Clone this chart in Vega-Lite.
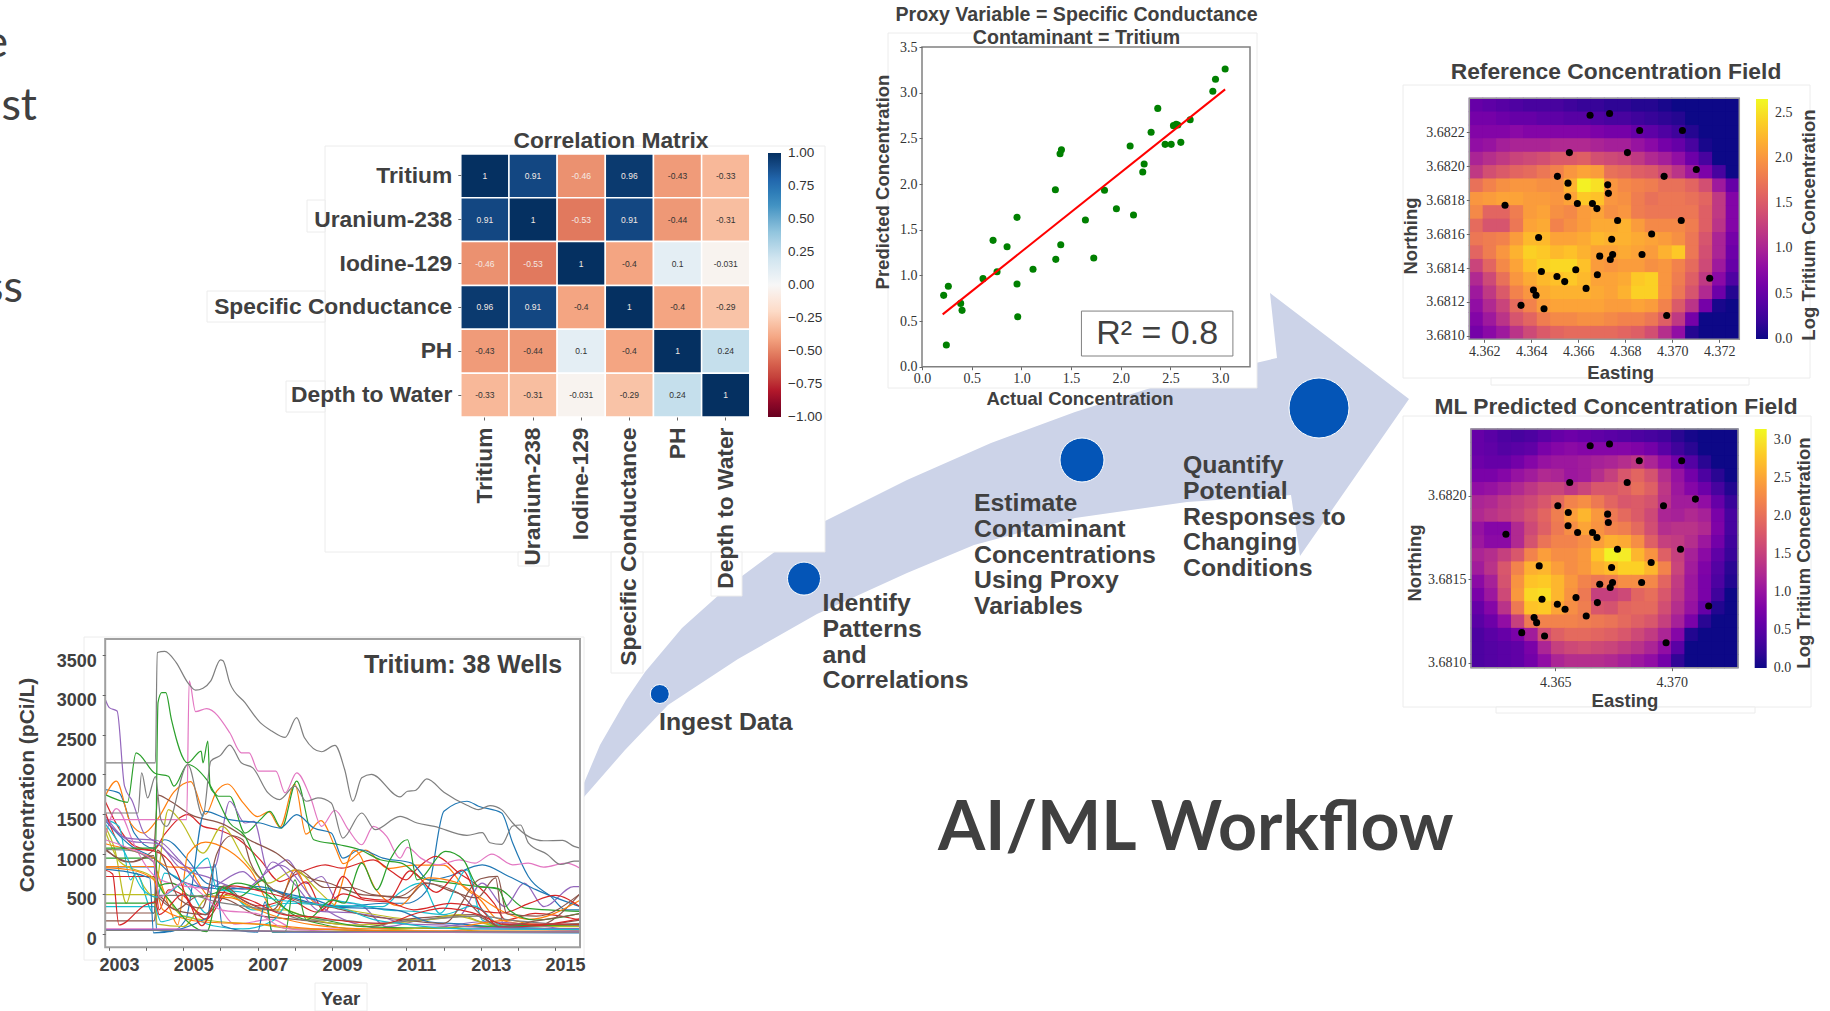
{"$schema":"https://vega.github.io/schema/vega-lite/v6.json","width":1830,"height":1011,"padding":0,"autosize":{"type":"none"},"background":"white","config":{"view":{"stroke":null},"axis":{"grid":false,"domain":false,"title":null,"labelOverlap":false,"labelFlush":false,"labelLimit":500,"tickColor":"#666","tickSize":3},"text":{"font":"Liberation Sans","color":"#404040"}},
"resolve":{"scale":{"x":"independent","y":"independent","color":"independent","size":"independent"},"axis":{"x":"independent","y":"independent"},"legend":{"color":"independent","size":"independent"}},
"datasets":{
"arrow":[{"o":1,"x":584,"y":797},{"o":2,"x":584,"y":783},{"o":3,"x":600,"y":745},{"o":4,"x":626,"y":700},{"o":5,"x":645,"y":672},{"o":6,"x":682,"y":628},{"o":7,"x":730,"y":585},{"o":8,"x":780,"y":548},{"o":9,"x":825,"y":521},{"o":10,"x":907,"y":480},{"o":11,"x":991,"y":443},{"o":12,"x":1075,"y":412},{"o":13,"x":1160,"y":385},{"o":14,"x":1277,"y":358},{"o":15,"x":1270,"y":293},{"o":16,"x":1409,"y":399},{"o":17,"x":1300,"y":556},{"o":18,"x":1291,"y":495},{"o":19,"x":1187,"y":502},{"o":20,"x":1075,"y":518},{"o":21,"x":974,"y":545},{"o":22,"x":907,"y":573},{"o":23,"x":817,"y":614},{"o":24,"x":738,"y":659},{"o":25,"x":668,"y":705},{"o":26,"x":625,"y":750}],
"panels":[{"x0":325,"x1":825,"y0":146,"y1":552},{"x0":307,"x1":325,"y0":200,"y1":232},{"x0":207,"x1":325,"y0":291,"y1":322},{"x0":286,"x1":325,"y0":381,"y1":412},{"x0":611,"x1":643,"y0":552,"y1":673},{"x0":711,"x1":742,"y0":552,"y1":596},{"x0":518,"x1":549,"y0":552,"y1":566},{"x0":888,"x1":1257,"y0":33,"y1":388},{"x0":1403,"x1":1810,"y0":85,"y1":378},{"x0":1491,"x1":1749,"y0":378,"y1":385},{"x0":1403,"x1":1811,"y0":416,"y1":707},{"x0":1496,"x1":1755,"y0":707,"y1":713},{"x0":84,"x1":584,"y0":637,"y1":960},{"x0":315,"x1":367,"y0":983,"y1":1011}],
"steps":[{"s":1,"x":659.8,"y":694},{"s":2,"x":804,"y":578.6},{"s":3,"x":1082,"y":460},{"s":4,"x":1319,"y":408}],
"stepText":[{"t":"Ingest Data","x":659,"y":710},{"t":"Identify\nPatterns\nand\nCorrelations","x":822.5,"y":591},{"t":"Estimate\nContaminant\nConcentrations\nUsing Proxy\nVariables","x":974,"y":491},{"t":"Quantify\nPotential\nResponses to\nChanging\nConditions","x":1183,"y":453}],
"wells":[{"e":4.3665,"n":3.6823},{"e":4.36733,"n":3.68231},{"e":4.36861,"n":3.68221},{"e":4.37043,"n":3.68221},{"e":4.36562,"n":3.68208},{"e":4.36809,"n":3.68208},{"e":4.37102,"n":3.68198},{"e":4.36965,"n":3.68194},{"e":4.36511,"n":3.68194},{"e":4.36556,"n":3.6819},{"e":4.36725,"n":3.68189},{"e":4.36555,"n":3.68182},{"e":4.36728,"n":3.68184},{"e":4.36288,"n":3.68177},{"e":4.36596,"n":3.68178},{"e":4.3666,"n":3.68178},{"e":4.36679,"n":3.68175},{"e":4.36767,"n":3.68168},{"e":4.37038,"n":3.68168},{"e":4.36431,"n":3.68158},{"e":4.36912,"n":3.6816},{"e":4.36742,"n":3.68157},{"e":4.36746,"n":3.68148},{"e":4.36871,"n":3.68148},{"e":4.36691,"n":3.68147},{"e":4.36736,"n":3.68145},{"e":4.36443,"n":3.68138},{"e":4.36589,"n":3.68139},{"e":4.36681,"n":3.68136},{"e":4.36509,"n":3.68135},{"e":4.36542,"n":3.68132},{"e":4.36633,"n":3.68128},{"e":4.36409,"n":3.68127},{"e":4.3642,"n":3.68124},{"e":4.36356,"n":3.68118},{"e":4.36454,"n":3.68116},{"e":4.36976,"n":3.68112},{"e":4.37159,"n":3.68134}],
"corr":[{"a":"Tritium","b":"Tritium","r":1,"l":"1"},{"a":"Tritium","b":"Uranium-238","r":0.91,"l":"0.91"},{"a":"Tritium","b":"Iodine-129","r":-0.46,"l":"-0.46"},{"a":"Tritium","b":"Specific Conductance","r":0.96,"l":"0.96"},{"a":"Tritium","b":"PH","r":-0.43,"l":"-0.43"},{"a":"Tritium","b":"Depth to Water","r":-0.33,"l":"-0.33"},{"a":"Uranium-238","b":"Tritium","r":0.91,"l":"0.91"},{"a":"Uranium-238","b":"Uranium-238","r":1,"l":"1"},{"a":"Uranium-238","b":"Iodine-129","r":-0.53,"l":"-0.53"},{"a":"Uranium-238","b":"Specific Conductance","r":0.91,"l":"0.91"},{"a":"Uranium-238","b":"PH","r":-0.44,"l":"-0.44"},{"a":"Uranium-238","b":"Depth to Water","r":-0.31,"l":"-0.31"},{"a":"Iodine-129","b":"Tritium","r":-0.46,"l":"-0.46"},{"a":"Iodine-129","b":"Uranium-238","r":-0.53,"l":"-0.53"},{"a":"Iodine-129","b":"Iodine-129","r":1,"l":"1"},{"a":"Iodine-129","b":"Specific Conductance","r":-0.4,"l":"-0.4"},{"a":"Iodine-129","b":"PH","r":0.1,"l":"0.1"},{"a":"Iodine-129","b":"Depth to Water","r":-0.031,"l":"-0.031"},{"a":"Specific Conductance","b":"Tritium","r":0.96,"l":"0.96"},{"a":"Specific Conductance","b":"Uranium-238","r":0.91,"l":"0.91"},{"a":"Specific Conductance","b":"Iodine-129","r":-0.4,"l":"-0.4"},{"a":"Specific Conductance","b":"Specific Conductance","r":1,"l":"1"},{"a":"Specific Conductance","b":"PH","r":-0.4,"l":"-0.4"},{"a":"Specific Conductance","b":"Depth to Water","r":-0.29,"l":"-0.29"},{"a":"PH","b":"Tritium","r":-0.43,"l":"-0.43"},{"a":"PH","b":"Uranium-238","r":-0.44,"l":"-0.44"},{"a":"PH","b":"Iodine-129","r":0.1,"l":"0.1"},{"a":"PH","b":"Specific Conductance","r":-0.4,"l":"-0.4"},{"a":"PH","b":"PH","r":1,"l":"1"},{"a":"PH","b":"Depth to Water","r":0.24,"l":"0.24"},{"a":"Depth to Water","b":"Tritium","r":-0.33,"l":"-0.33"},{"a":"Depth to Water","b":"Uranium-238","r":-0.31,"l":"-0.31"},{"a":"Depth to Water","b":"Iodine-129","r":-0.031,"l":"-0.031"},{"a":"Depth to Water","b":"Specific Conductance","r":-0.29,"l":"-0.29"},{"a":"Depth to Water","b":"PH","r":0.24,"l":"0.24"},{"a":"Depth to Water","b":"Depth to Water","r":1,"l":"1"}],
"scatter":[{"x":0.218,"y":0.781},{"x":0.265,"y":0.88},{"x":0.245,"y":0.237},{"x":0.389,"y":0.693},{"x":0.403,"y":0.617},{"x":0.614,"y":0.964},{"x":0.715,"y":1.383},{"x":0.755,"y":1.04},{"x":0.856,"y":1.314},{"x":0.956,"y":1.635},{"x":0.956,"y":0.905},{"x":0.963,"y":0.547},{"x":1.117,"y":1.066},{"x":1.342,"y":1.938},{"x":1.346,"y":1.175},{"x":1.389,"y":2.332},{"x":1.403,"y":2.376},{"x":1.396,"y":1.336},{"x":1.644,"y":1.606},{"x":1.728,"y":1.19},{"x":1.836,"y":1.931},{"x":1.956,"y":1.73},{"x":2.094,"y":2.416},{"x":2.128,"y":1.661},{"x":2.221,"y":2.131},{"x":2.235,"y":2.219},{"x":2.305,"y":2.566},{"x":2.372,"y":2.828},{"x":2.446,"y":2.434},{"x":2.507,"y":2.434},{"x":2.53,"y":2.639},{"x":2.557,"y":2.653},{"x":2.574,"y":2.646},{"x":2.604,"y":2.456},{"x":2.698,"y":2.704},{"x":2.926,"y":3.015},{"x":2.953,"y":3.146},{"x":3.05,"y":3.259}],
"fit":[{"x":0.208,"y":0.573},{"x":3.05,"y":3.036}],
"ts":[
{"w":1,"t":2002.9,"c":1810},{"w":1,"t":2003.27,"c":1768},{"w":1,"t":2003.68,"c":1264},{"w":1,"t":2004.19,"c":1075},{"w":1,"t":2004.5,"c":1180},{"w":1,"t":2005.12,"c":928},{"w":1,"t":2005.63,"c":634},{"w":1,"t":2006.25,"c":571},{"w":1,"t":2007.28,"c":550},{"w":1,"t":2008.31,"c":403},{"w":1,"t":2009.34,"c":340},{"w":1,"t":2010.37,"c":382},{"w":1,"t":2010.99,"c":382},{"w":1,"t":2011.4,"c":466},{"w":1,"t":2011.6,"c":592},{"w":1,"t":2012.01,"c":1537},{"w":1,"t":2012.63,"c":1663},{"w":1,"t":2012.94,"c":1600},{"w":1,"t":2013.56,"c":1516},{"w":1,"t":2013.86,"c":1138},{"w":1,"t":2014.28,"c":718},{"w":1,"t":2014.89,"c":466},{"w":1,"t":2015.3,"c":298},{"w":1,"t":2015.67,"c":298},
{"w":2,"t":2002.9,"c":1726},{"w":2,"t":2003.2,"c":1915},{"w":2,"t":2003.58,"c":1390},{"w":2,"t":2003.94,"c":1264},{"w":2,"t":2004.3,"c":1432},{"w":2,"t":2004.75,"c":1780},{"w":2,"t":2005.2,"c":1910},{"w":2,"t":2005.6,"c":1500},{"w":2,"t":2005.9,"c":1790},{"w":2,"t":2006.2,"c":1880},{"w":2,"t":2006.6,"c":1650},{"w":2,"t":2007,"c":1470},{"w":2,"t":2007.3,"c":1530},{"w":2,"t":2007.6,"c":1340},{"w":2,"t":2008,"c":1880},{"w":2,"t":2008.3,"c":1250},{"w":2,"t":2008.7,"c":1420},{"w":2,"t":2009.1,"c":1070},{"w":2,"t":2009.3,"c":880},{"w":2,"t":2009.9,"c":1050},{"w":2,"t":2010.5,"c":820},{"w":2,"t":2011.2,"c":860},{"w":2,"t":2012,"c":860},{"w":2,"t":2012.6,"c":560},{"w":2,"t":2013,"c":420},{"w":2,"t":2013.4,"c":200},{"w":2,"t":2014,"c":130},{"w":2,"t":2015.67,"c":100},
{"w":3,"t":2002.9,"c":1747},{"w":3,"t":2003.36,"c":1663},{"w":3,"t":2003.5,"c":1650},{"w":3,"t":2003.73,"c":2272},{"w":3,"t":2004.25,"c":2012},{"w":3,"t":2004.6,"c":1978},{"w":3,"t":2004.75,"c":1852},{"w":3,"t":2005.12,"c":2125},{"w":3,"t":2005.63,"c":1936},{"w":3,"t":2005.94,"c":1726},{"w":3,"t":2006.25,"c":1726},{"w":3,"t":2006.66,"c":1264},{"w":3,"t":2007.07,"c":1432},{"w":3,"t":2007.33,"c":1537},{"w":3,"t":2007.64,"c":1327},{"w":3,"t":2008.05,"c":1915},{"w":3,"t":2008.51,"c":1180},{"w":3,"t":2009.2,"c":1117},{"w":3,"t":2009.75,"c":1054},{"w":3,"t":2010.3,"c":928},{"w":3,"t":2010.9,"c":880},{"w":3,"t":2011.4,"c":700},{"w":3,"t":2012,"c":650},{"w":3,"t":2012.8,"c":600},{"w":3,"t":2013.5,"c":560},{"w":3,"t":2014.2,"c":320},{"w":3,"t":2015.67,"c":280},
{"w":4,"t":2002.9,"c":1663},{"w":4,"t":2003.3,"c":1300},{"w":4,"t":2003.7,"c":1100},{"w":4,"t":2004.2,"c":1050},{"w":4,"t":2004.5,"c":1250},{"w":4,"t":2005.12,"c":1495},{"w":4,"t":2005.53,"c":1348},{"w":4,"t":2005.94,"c":1306},{"w":4,"t":2006.5,"c":1180},{"w":4,"t":2007.07,"c":928},{"w":4,"t":2007.6,"c":655},{"w":4,"t":2008.1,"c":760},{"w":4,"t":2008.82,"c":865},{"w":4,"t":2009.25,"c":823},{"w":4,"t":2010.11,"c":928},{"w":4,"t":2010.6,"c":780},{"w":4,"t":2010.99,"c":676},{"w":4,"t":2011.3,"c":823},{"w":4,"t":2011.8,"c":970},{"w":4,"t":2012.42,"c":760},{"w":4,"t":2012.94,"c":592},{"w":4,"t":2013.36,"c":382},{"w":4,"t":2013.67,"c":172},{"w":4,"t":2014.47,"c":256},{"w":4,"t":2015.67,"c":172},
{"w":5,"t":2002.9,"c":2944},{"w":5,"t":2003.01,"c":2839},{"w":5,"t":2003.22,"c":2797},{"w":5,"t":2003.42,"c":1852},{"w":5,"t":2003.63,"c":1663},{"w":5,"t":2003.94,"c":1264},{"w":5,"t":2004.3,"c":1138},{"w":5,"t":2004.7,"c":970},{"w":5,"t":2005.22,"c":823},{"w":5,"t":2005.84,"c":840},{"w":5,"t":2006.25,"c":1663},{"w":5,"t":2006.66,"c":1390},{"w":5,"t":2006.9,"c":1410},{"w":5,"t":2007.28,"c":802},{"w":5,"t":2007.8,"c":928},{"w":5,"t":2008.3,"c":630},{"w":5,"t":2008.72,"c":718},{"w":5,"t":2009.12,"c":424},{"w":5,"t":2009.84,"c":340},{"w":5,"t":2010.46,"c":88},{"w":5,"t":2011.4,"c":172},{"w":5,"t":2012.4,"c":214},{"w":5,"t":2013.04,"c":634},{"w":5,"t":2013.65,"c":340},{"w":5,"t":2014.17,"c":634},{"w":5,"t":2014.7,"c":340},{"w":5,"t":2015.5,"c":592},{"w":5,"t":2015.67,"c":592},
{"w":6,"t":2002.9,"c":1070},{"w":6,"t":2003.5,"c":900},{"w":6,"t":2004.2,"c":1050},{"w":6,"t":2004.32,"c":1739},{"w":6,"t":2004.6,"c":1680},{"w":6,"t":2005.2,"c":1495},{"w":6,"t":2006.1,"c":1370},{"w":6,"t":2006.77,"c":1180},{"w":6,"t":2007.5,"c":1012},{"w":6,"t":2008.3,"c":718},{"w":6,"t":2008.93,"c":634},{"w":6,"t":2009.85,"c":487},{"w":6,"t":2010.8,"c":466},{"w":6,"t":2011.5,"c":640},{"w":6,"t":2012.3,"c":520},{"w":6,"t":2012.9,"c":450},{"w":6,"t":2013.4,"c":700},{"w":6,"t":2013.6,"c":120},{"w":6,"t":2014.5,"c":100},{"w":6,"t":2015.67,"c":500},
{"w":7,"t":2002.9,"c":1432},{"w":7,"t":2005.09,"c":1432},{"w":7,"t":2005.16,"c":3175},{"w":7,"t":2005.33,"c":2789},{"w":7,"t":2005.63,"c":2827},{"w":7,"t":2006.25,"c":2524},{"w":7,"t":2006.56,"c":2272},{"w":7,"t":2006.77,"c":2272},{"w":7,"t":2007.02,"c":2041},{"w":7,"t":2007.49,"c":2041},{"w":7,"t":2007.74,"c":1768},{"w":7,"t":2008.05,"c":2020},{"w":7,"t":2008.41,"c":1726},{"w":7,"t":2008.72,"c":1348},{"w":7,"t":2009.08,"c":1550},{"w":7,"t":2009.44,"c":1306},{"w":7,"t":2009.8,"c":1117},{"w":7,"t":2010.11,"c":1348},{"w":7,"t":2010.47,"c":1222},{"w":7,"t":2010.83,"c":949},{"w":7,"t":2011.03,"c":1084},{"w":7,"t":2011.39,"c":949},{"w":7,"t":2011.86,"c":865},{"w":7,"t":2012.42,"c":928},{"w":7,"t":2012.84,"c":886},{"w":7,"t":2013.3,"c":1000},{"w":7,"t":2013.86,"c":865},{"w":7,"t":2014.28,"c":886},{"w":7,"t":2014.69,"c":836},{"w":7,"t":2015.3,"c":886},{"w":7,"t":2015.67,"c":823},
{"w":8,"t":2002.9,"c":2146},{"w":8,"t":2004.25,"c":2146},{"w":8,"t":2004.3,"c":3532},{"w":8,"t":2004.5,"c":3545},{"w":8,"t":2004.81,"c":3405},{"w":8,"t":2005.12,"c":3154},{"w":8,"t":2005.33,"c":3058},{"w":8,"t":2005.53,"c":3083},{"w":8,"t":2005.74,"c":3175},{"w":8,"t":2006,"c":3440},{"w":8,"t":2006.07,"c":3427},{"w":8,"t":2006.25,"c":3150},{"w":8,"t":2006.66,"c":2902},{"w":8,"t":2007.07,"c":2650},{"w":8,"t":2007.38,"c":2545},{"w":8,"t":2007.74,"c":2465},{"w":8,"t":2008.05,"c":2713},{"w":8,"t":2008.26,"c":2461},{"w":8,"t":2008.72,"c":2285},{"w":8,"t":2009.08,"c":2365},{"w":8,"t":2009.34,"c":2062},{"w":8,"t":2009.56,"c":1663},{"w":8,"t":2009.8,"c":1957},{"w":8,"t":2010.06,"c":2000},{"w":8,"t":2010.83,"c":1718},{"w":8,"t":2011.03,"c":1789},{"w":8,"t":2011.24,"c":1798},{"w":8,"t":2011.55,"c":1945},{"w":8,"t":2012.01,"c":1777},{"w":8,"t":2012.63,"c":1613},{"w":8,"t":2012.94,"c":1558},{"w":8,"t":2013.25,"c":1609},{"w":8,"t":2013.56,"c":1558},{"w":8,"t":2013.86,"c":1390},{"w":8,"t":2014.28,"c":1222},{"w":8,"t":2014.69,"c":1167},{"w":8,"t":2015.2,"c":1172},{"w":8,"t":2015.51,"c":1096},{"w":8,"t":2015.67,"c":1075},
{"w":9,"t":2002.9,"c":1348},{"w":9,"t":2003.16,"c":1054},{"w":9,"t":2003.47,"c":382},{"w":9,"t":2003.73,"c":760},{"w":9,"t":2003.94,"c":592},{"w":9,"t":2004.2,"c":466},{"w":9,"t":2004.6,"c":1558},{"w":9,"t":2004.9,"c":1432},{"w":9,"t":2005.53,"c":1012},{"w":9,"t":2006.04,"c":1348},{"w":9,"t":2006.66,"c":928},{"w":9,"t":2007.28,"c":634},{"w":9,"t":2008,"c":802},{"w":9,"t":2008.6,"c":550},{"w":9,"t":2009.14,"c":340},{"w":9,"t":2009.96,"c":256},{"w":9,"t":2011.4,"c":172},{"w":9,"t":2012.4,"c":214},{"w":9,"t":2013.5,"c":88},{"w":9,"t":2015.67,"c":88},
{"w":10,"t":2002.9,"c":1432},{"w":10,"t":2003.27,"c":1348},{"w":10,"t":2003.58,"c":676},{"w":10,"t":2003.73,"c":760},{"w":10,"t":2004.2,"c":256},{"w":10,"t":2004.5,"c":760},{"w":10,"t":2005.12,"c":592},{"w":10,"t":2005.63,"c":256},{"w":10,"t":2006.04,"c":592},{"w":10,"t":2006.87,"c":298},{"w":10,"t":2007.8,"c":382},{"w":10,"t":2008.8,"c":361},{"w":10,"t":2010.37,"c":340},{"w":10,"t":2010.8,"c":508},{"w":10,"t":2011.4,"c":634},{"w":10,"t":2011.9,"c":256},{"w":10,"t":2012.63,"c":802},{"w":10,"t":2013.04,"c":172},{"w":10,"t":2013.65,"c":88},{"w":10,"t":2015.67,"c":130},
{"w":11,"t":2002.9,"c":840},{"w":11,"t":2004.22,"c":840},{"w":11,"t":2004.28,"c":46},{"w":11,"t":2004.65,"c":25},{"w":11,"t":2005.06,"c":172},{"w":11,"t":2005.58,"c":1537},{"w":11,"t":2006.25,"c":1432},{"w":11,"t":2007.07,"c":1390},{"w":11,"t":2007.6,"c":1327},{"w":11,"t":2008.05,"c":1495},{"w":11,"t":2008.51,"c":1327},{"w":11,"t":2008.98,"c":1264},{"w":11,"t":2009.29,"c":949},{"w":11,"t":2009.75,"c":1054},{"w":11,"t":2010.37,"c":949},{"w":11,"t":2011.14,"c":886},{"w":11,"t":2011.6,"c":676},{"w":11,"t":2012.12,"c":718},{"w":11,"t":2013.04,"c":865},{"w":11,"t":2013.76,"c":718},{"w":11,"t":2014.5,"c":550},{"w":11,"t":2015.67,"c":340},
{"w":12,"t":2002.9,"c":844},{"w":12,"t":2004.22,"c":844},{"w":12,"t":2004.4,"c":634},{"w":12,"t":2004.65,"c":300},{"w":12,"t":2004.85,"c":109},{"w":12,"t":2005.12,"c":1000},{"w":12,"t":2005.6,"c":1150},{"w":12,"t":2006.2,"c":1050},{"w":12,"t":2006.8,"c":800},{"w":12,"t":2007.5,"c":280},{"w":12,"t":2008,"c":800},{"w":12,"t":2008.5,"c":400},{"w":12,"t":2009,"c":330},{"w":12,"t":2009.6,"c":1050},{"w":12,"t":2010.2,"c":540},{"w":12,"t":2010.8,"c":350},{"w":12,"t":2011.6,"c":700},{"w":12,"t":2012.3,"c":650},{"w":12,"t":2013,"c":450},{"w":12,"t":2013.5,"c":300},{"w":12,"t":2014.3,"c":180},{"w":12,"t":2015.67,"c":420},
{"w":13,"t":2002.9,"c":949},{"w":13,"t":2004.25,"c":949},{"w":13,"t":2004.32,"c":2902},{"w":13,"t":2004.42,"c":3028},{"w":13,"t":2004.53,"c":3028},{"w":13,"t":2004.68,"c":2692},{"w":13,"t":2005.12,"c":2146},{"w":13,"t":2005.48,"c":2293},{"w":13,"t":2005.53,"c":2146},{"w":13,"t":2005.66,"c":2419},{"w":13,"t":2005.72,"c":1852},{"w":13,"t":2005.84,"c":1760},{"w":13,"t":2006.25,"c":1390},{"w":13,"t":2006.66,"c":1222},{"w":13,"t":2006.87,"c":1012},{"w":13,"t":2007.28,"c":592},{"w":13,"t":2007.9,"c":256},{"w":13,"t":2008.82,"c":109},{"w":13,"t":2009.85,"c":46},{"w":13,"t":2011.4,"c":25},{"w":13,"t":2015.67,"c":25},
{"w":14,"t":2002.9,"c":718},{"w":14,"t":2004.22,"c":718},{"w":14,"t":2004.35,"c":300},{"w":14,"t":2004.6,"c":550},{"w":14,"t":2005,"c":480},{"w":14,"t":2005.6,"c":180},{"w":14,"t":2006.2,"c":500},{"w":14,"t":2007,"c":350},{"w":14,"t":2007.7,"c":430},{"w":14,"t":2008.3,"c":650},{"w":14,"t":2008.8,"c":280},{"w":14,"t":2009.3,"c":720},{"w":14,"t":2009.8,"c":450},{"w":14,"t":2010.5,"c":420},{"w":14,"t":2011.1,"c":790},{"w":14,"t":2011.8,"c":520},{"w":14,"t":2012.5,"c":800},{"w":14,"t":2013.1,"c":280},{"w":14,"t":2013.6,"c":260},{"w":14,"t":2014.3,"c":380},{"w":14,"t":2015,"c":480},{"w":14,"t":2015.67,"c":340},
{"w":15,"t":2002.9,"c":1480},{"w":15,"t":2003.6,"c":1160},{"w":15,"t":2004.3,"c":1130},{"w":15,"t":2004.9,"c":830},{"w":15,"t":2005.6,"c":720},{"w":15,"t":2006.6,"c":560},{"w":15,"t":2007.6,"c":860},{"w":15,"t":2008.6,"c":380},{"w":15,"t":2009.6,"c":130},{"w":15,"t":2010.6,"c":60},{"w":15,"t":2012,"c":90},{"w":15,"t":2013,"c":150},{"w":15,"t":2015.67,"c":30},
{"w":16,"t":2002.9,"c":160},{"w":16,"t":2004.22,"c":160},{"w":16,"t":2004.3,"c":480},{"w":16,"t":2004.8,"c":300},{"w":16,"t":2005.4,"c":470},{"w":16,"t":2006.1,"c":440},{"w":16,"t":2007,"c":230},{"w":16,"t":2008,"c":180},{"w":16,"t":2009,"c":130},{"w":16,"t":2010,"c":90},{"w":16,"t":2011,"c":180},{"w":16,"t":2012,"c":220},{"w":16,"t":2012.8,"c":240},{"w":16,"t":2013.4,"c":120},{"w":16,"t":2014.5,"c":110},{"w":16,"t":2015.67,"c":170},
{"w":17,"t":2002.9,"c":1210},{"w":17,"t":2003.2,"c":1570},{"w":17,"t":2003.7,"c":1100},{"w":17,"t":2004,"c":850},{"w":17,"t":2004.3,"c":700},{"w":17,"t":2005,"c":600},{"w":17,"t":2005.6,"c":560},{"w":17,"t":2006.4,"c":120},{"w":17,"t":2007.4,"c":180},{"w":17,"t":2008,"c":60},{"w":17,"t":2009,"c":60},{"w":17,"t":2010,"c":40},{"w":17,"t":2012,"c":30},{"w":17,"t":2013,"c":60},{"w":17,"t":2015.67,"c":40},
{"w":18,"t":2002.9,"c":1516},{"w":18,"t":2003.78,"c":1516},{"w":18,"t":2003.88,"c":2020},{"w":18,"t":2004.04,"c":1705},{"w":18,"t":2004.25,"c":1973},{"w":18,"t":2004.4,"c":1432},{"w":18,"t":2004.55,"c":1348},{"w":18,"t":2005.12,"c":2125},{"w":18,"t":2005.53,"c":1474},{"w":18,"t":2005.74,"c":2167},{"w":18,"t":2006,"c":2239},{"w":18,"t":2006.25,"c":2369},{"w":18,"t":2006.56,"c":2146},{"w":18,"t":2006.87,"c":2083},{"w":18,"t":2007.28,"c":1768},{"w":18,"t":2007.59,"c":1684},{"w":18,"t":2008,"c":1852},{"w":18,"t":2008.31,"c":1663},{"w":18,"t":2008.62,"c":1705},{"w":18,"t":2008.98,"c":1642},{"w":18,"t":2009.29,"c":1201},{"w":18,"t":2009.8,"c":1516},{"w":18,"t":2010.16,"c":1306},{"w":18,"t":2010.83,"c":1474},{"w":18,"t":2011.29,"c":1390},{"w":18,"t":2011.75,"c":1348},{"w":18,"t":2012.63,"c":1235},{"w":18,"t":2013.04,"c":1268},{"w":18,"t":2013.25,"c":1142},{"w":18,"t":2013.56,"c":1121},{"w":18,"t":2013.86,"c":1352},{"w":18,"t":2014.07,"c":1365},{"w":18,"t":2014.28,"c":1142},{"w":18,"t":2014.79,"c":995},{"w":18,"t":2015.15,"c":869},{"w":18,"t":2015.51,"c":911},{"w":18,"t":2015.67,"c":911},
{"w":19,"t":2002.9,"c":490},{"w":19,"t":2004.22,"c":490},{"w":19,"t":2004.3,"c":120},{"w":19,"t":2005,"c":90},{"w":19,"t":2005.7,"c":470},{"w":19,"t":2006.2,"c":480},{"w":19,"t":2007,"c":300},{"w":19,"t":2007.7,"c":300},{"w":19,"t":2008.4,"c":190},{"w":19,"t":2009.5,"c":110},{"w":19,"t":2010.8,"c":140},{"w":19,"t":2011.5,"c":170},{"w":19,"t":2012.4,"c":240},{"w":19,"t":2013,"c":150},{"w":19,"t":2014,"c":60},{"w":19,"t":2015.67,"c":60},
{"w":20,"t":2002.9,"c":340},{"w":20,"t":2004.22,"c":340},{"w":20,"t":2004.4,"c":150},{"w":20,"t":2005,"c":220},{"w":20,"t":2005.8,"c":100},{"w":20,"t":2006.6,"c":60},{"w":20,"t":2007.4,"c":160},{"w":20,"t":2008,"c":460},{"w":20,"t":2008.8,"c":430},{"w":20,"t":2009.6,"c":380},{"w":20,"t":2010.4,"c":300},{"w":20,"t":2011.2,"c":280},{"w":20,"t":2012,"c":240},{"w":20,"t":2012.8,"c":350},{"w":20,"t":2013.6,"c":90},{"w":20,"t":2015.67,"c":50},
{"w":21,"t":2002.9,"c":1420},{"w":21,"t":2003.6,"c":1100},{"w":21,"t":2004.2,"c":950},{"w":21,"t":2004.8,"c":700},{"w":21,"t":2005.6,"c":580},{"w":21,"t":2006.2,"c":560},{"w":21,"t":2007,"c":590},{"w":21,"t":2007.8,"c":500},{"w":21,"t":2008.5,"c":430},{"w":21,"t":2009.2,"c":330},{"w":21,"t":2010,"c":320},{"w":21,"t":2010.8,"c":290},{"w":21,"t":2011.6,"c":150},{"w":21,"t":2012.5,"c":120},{"w":21,"t":2013.5,"c":80},{"w":21,"t":2015.67,"c":60},
{"w":22,"t":2002.9,"c":1130},{"w":22,"t":2003.5,"c":1060},{"w":22,"t":2004.2,"c":950},{"w":22,"t":2004.6,"c":840},{"w":22,"t":2005.1,"c":830},{"w":22,"t":2005.7,"c":470},{"w":22,"t":2006.3,"c":450},{"w":22,"t":2007,"c":300},{"w":22,"t":2007.6,"c":200},{"w":22,"t":2008.5,"c":110},{"w":22,"t":2010,"c":60},{"w":22,"t":2012,"c":70},{"w":22,"t":2013.8,"c":170},{"w":22,"t":2014.5,"c":100},{"w":22,"t":2015.67,"c":120},
{"w":23,"t":2002.9,"c":385},{"w":23,"t":2004.22,"c":385},{"w":23,"t":2004.3,"c":592},{"w":23,"t":2004.7,"c":634},{"w":23,"t":2005.22,"c":466},{"w":23,"t":2005.84,"c":508},{"w":23,"t":2006.45,"c":634},{"w":23,"t":2007.07,"c":550},{"w":23,"t":2007.8,"c":298},{"w":23,"t":2008.82,"c":172},{"w":23,"t":2009.85,"c":88},{"w":23,"t":2011.4,"c":70},{"w":23,"t":2012.8,"c":90},{"w":23,"t":2015.67,"c":110},
{"w":24,"t":2002.9,"c":1530},{"w":24,"t":2003.4,"c":1080},{"w":24,"t":2004.2,"c":1040},{"w":24,"t":2004.8,"c":800},{"w":24,"t":2005.2,"c":350},{"w":24,"t":2005.6,"c":240},{"w":24,"t":2006.3,"c":600},{"w":24,"t":2007.2,"c":520},{"w":24,"t":2007.9,"c":430},{"w":24,"t":2008.6,"c":270},{"w":24,"t":2009.3,"c":500},{"w":24,"t":2009.9,"c":420},{"w":24,"t":2010.5,"c":400},{"w":24,"t":2011.2,"c":300},{"w":24,"t":2012.2,"c":380},{"w":24,"t":2013,"c":300},{"w":24,"t":2013.5,"c":80},{"w":24,"t":2014.5,"c":100},{"w":24,"t":2015.67,"c":190},
{"w":25,"t":2002.9,"c":1440},{"w":25,"t":2003.5,"c":1200},{"w":25,"t":2004.3,"c":1170},{"w":25,"t":2004.9,"c":920},{"w":25,"t":2005.6,"c":560},{"w":25,"t":2006.6,"c":780},{"w":25,"t":2007,"c":650},{"w":25,"t":2007.4,"c":900},{"w":25,"t":2008,"c":620},{"w":25,"t":2008.7,"c":280},{"w":25,"t":2009.6,"c":260},{"w":25,"t":2010.4,"c":200},{"w":25,"t":2011,"c":120},{"w":25,"t":2012,"c":110},{"w":25,"t":2013,"c":80},{"w":25,"t":2015.67,"c":60},
{"w":26,"t":2002.9,"c":260},{"w":26,"t":2004.22,"c":260},{"w":26,"t":2004.3,"c":1050},{"w":26,"t":2004.9,"c":430},{"w":26,"t":2005.5,"c":320},{"w":26,"t":2005.9,"c":1000},{"w":26,"t":2006.3,"c":1230},{"w":26,"t":2006.6,"c":1180},{"w":26,"t":2006.8,"c":900},{"w":26,"t":2007.3,"c":600},{"w":26,"t":2008,"c":430},{"w":26,"t":2009,"c":330},{"w":26,"t":2010,"c":220},{"w":26,"t":2011,"c":170},{"w":26,"t":2012,"c":130},{"w":26,"t":2013,"c":690},{"w":26,"t":2013.45,"c":720},{"w":26,"t":2013.7,"c":250},{"w":26,"t":2014.5,"c":220},{"w":26,"t":2015.67,"c":500},
{"w":27,"t":2002.9,"c":60},{"w":27,"t":2004.22,"c":60},{"w":27,"t":2004.9,"c":60},{"w":27,"t":2005.5,"c":40},{"w":27,"t":2006.5,"c":40},{"w":27,"t":2008,"c":30},{"w":27,"t":2010,"c":20},{"w":27,"t":2015.67,"c":20},
{"w":28,"t":2002.9,"c":1060},{"w":28,"t":2003.5,"c":1050},{"w":28,"t":2004.2,"c":900},{"w":28,"t":2004.35,"c":480},{"w":28,"t":2005.2,"c":480},{"w":28,"t":2005.9,"c":400},{"w":28,"t":2006.7,"c":340},{"w":28,"t":2007.5,"c":280},{"w":28,"t":2008.3,"c":170},{"w":28,"t":2009.2,"c":170},{"w":28,"t":2010.2,"c":130},{"w":28,"t":2011.3,"c":170},{"w":28,"t":2012.3,"c":210},{"w":28,"t":2013,"c":220},{"w":28,"t":2013.8,"c":170},{"w":28,"t":2015.67,"c":100},
{"w":29,"t":2002.9,"c":1290},{"w":29,"t":2003.3,"c":900},{"w":29,"t":2004.2,"c":700},{"w":29,"t":2005,"c":220},{"w":29,"t":2006,"c":150},{"w":29,"t":2007,"c":120},{"w":29,"t":2008,"c":60},{"w":29,"t":2009,"c":50},{"w":29,"t":2010,"c":40},{"w":29,"t":2011,"c":60},{"w":29,"t":2012,"c":80},{"w":29,"t":2013,"c":30},{"w":29,"t":2015.67,"c":30},
{"w":30,"t":2002.9,"c":1380},{"w":30,"t":2003.4,"c":1040},{"w":30,"t":2003.9,"c":560},{"w":30,"t":2004.3,"c":460},{"w":30,"t":2005.3,"c":800},{"w":30,"t":2005.65,"c":950},{"w":30,"t":2005.9,"c":560},{"w":30,"t":2006.6,"c":520},{"w":30,"t":2007.6,"c":420},{"w":30,"t":2008.4,"c":380},{"w":30,"t":2009.4,"c":300},{"w":30,"t":2010.1,"c":180},{"w":30,"t":2011,"c":120},{"w":30,"t":2012,"c":70},{"w":30,"t":2013,"c":60},{"w":30,"t":2015.67,"c":50},
{"w":31,"t":2002.9,"c":810},{"w":31,"t":2004.1,"c":700},{"w":31,"t":2004.2,"c":10},{"w":31,"t":2005.65,"c":200},{"w":31,"t":2005.85,"c":870},{"w":31,"t":2006.05,"c":100},{"w":31,"t":2007,"c":20},{"w":31,"t":2007.2,"c":400},{"w":31,"t":2007.4,"c":20},{"w":31,"t":2009,"c":20},{"w":31,"t":2015.67,"c":10},
{"w":32,"t":2002.9,"c":830},{"w":32,"t":2003.6,"c":800},{"w":32,"t":2004.2,"c":680},{"w":32,"t":2004.45,"c":300},{"w":32,"t":2005.5,"c":150},{"w":32,"t":2007,"c":120},{"w":32,"t":2008.5,"c":60},{"w":32,"t":2010,"c":40},{"w":32,"t":2015.67,"c":30},
{"w":33,"t":2002.9,"c":1075},{"w":33,"t":2004.25,"c":1075},{"w":33,"t":2004.3,"c":676},{"w":33,"t":2004.7,"c":382},{"w":33,"t":2005.63,"c":25},{"w":33,"t":2005.99,"c":592},{"w":33,"t":2006.5,"c":466},{"w":33,"t":2007.17,"c":676},{"w":33,"t":2007.38,"c":25},{"w":33,"t":2007.74,"c":25},{"w":33,"t":2008,"c":676},{"w":33,"t":2008.31,"c":172},{"w":33,"t":2009.02,"c":424},{"w":33,"t":2009.33,"c":382},{"w":33,"t":2009.8,"c":886},{"w":33,"t":2010.2,"c":550},{"w":33,"t":2010.56,"c":928},{"w":33,"t":2011.03,"c":1180},{"w":33,"t":2011.29,"c":676},{"w":33,"t":2012.06,"c":1033},{"w":33,"t":2012.53,"c":928},{"w":33,"t":2012.94,"c":592},{"w":33,"t":2013.45,"c":571},{"w":33,"t":2013.76,"c":298},{"w":33,"t":2014.47,"c":172},{"w":33,"t":2015.67,"c":256},
{"w":34,"t":2002.9,"c":800},{"w":34,"t":2003.1,"c":750},{"w":34,"t":2003.27,"c":109},{"w":34,"t":2003.98,"c":361},{"w":34,"t":2004.25,"c":400},{"w":34,"t":2004.35,"c":240},{"w":34,"t":2005,"c":500},{"w":34,"t":2005.5,"c":100},{"w":34,"t":2006,"c":520},{"w":34,"t":2006.8,"c":420},{"w":34,"t":2007.7,"c":240},{"w":34,"t":2008.5,"c":210},{"w":34,"t":2009.5,"c":150},{"w":34,"t":2010.4,"c":130},{"w":34,"t":2011.3,"c":260},{"w":34,"t":2012,"c":320},{"w":34,"t":2013,"c":230},{"w":34,"t":2013.6,"c":120},{"w":34,"t":2015.67,"c":120},
{"w":35,"t":2002.9,"c":50},{"w":35,"t":2004.5,"c":50},{"w":35,"t":2006,"c":40},{"w":35,"t":2009,"c":20},{"w":35,"t":2012,"c":20},{"w":35,"t":2015.67,"c":30},
{"w":36,"t":2002.9,"c":1050},{"w":36,"t":2003.6,"c":900},{"w":36,"t":2004.2,"c":980},{"w":36,"t":2004.35,"c":450},{"w":36,"t":2005,"c":270},{"w":36,"t":2005.6,"c":240},{"w":36,"t":2006.1,"c":600},{"w":36,"t":2006.6,"c":420},{"w":36,"t":2007.4,"c":300},{"w":36,"t":2008.1,"c":800},{"w":36,"t":2008.8,"c":580},{"w":36,"t":2009.5,"c":580},{"w":36,"t":2010.1,"c":490},{"w":36,"t":2011,"c":450},{"w":36,"t":2011.5,"c":630},{"w":36,"t":2012.4,"c":510},{"w":36,"t":2013,"c":240},{"w":36,"t":2013.5,"c":90},{"w":36,"t":2014.5,"c":160},{"w":36,"t":2015.67,"c":250},
{"w":37,"t":2002.9,"c":1180},{"w":37,"t":2003.5,"c":1080},{"w":37,"t":2004.2,"c":910},{"w":37,"t":2004.35,"c":460},{"w":37,"t":2005,"c":640},{"w":37,"t":2005.6,"c":460},{"w":37,"t":2006,"c":300},{"w":37,"t":2007,"c":250},{"w":37,"t":2007.7,"c":70},{"w":37,"t":2008.5,"c":40},{"w":37,"t":2010,"c":20},{"w":37,"t":2015.67,"c":20},
{"w":38,"t":2002.9,"c":40},{"w":38,"t":2005,"c":40},{"w":38,"t":2008,"c":30},{"w":38,"t":2015.67,"c":20}
],
"f1":[
{"i":0,"j":0,"v":0.5},{"i":1,"j":0,"v":0.45},{"i":2,"j":0,"v":0.4},{"i":3,"j":0,"v":0.35},{"i":4,"j":0,"v":0.3},{"i":5,"j":0,"v":0.3},{"i":6,"j":0,"v":0.3},{"i":7,"j":0,"v":0.25},{"i":8,"j":0,"v":0.2},{"i":9,"j":0,"v":0.2},{"i":10,"j":0,"v":0.15},{"i":11,"j":0,"v":0.15},{"i":12,"j":0,"v":0.1},{"i":13,"j":0,"v":0.1},{"i":14,"j":0,"v":0.05},{"i":15,"j":0,"v":0},{"i":16,"j":0,"v":0},{"i":17,"j":0,"v":0},{"i":18,"j":0,"v":0},{"i":19,"j":0,"v":0},
{"i":0,"j":1,"v":0.6},{"i":1,"j":1,"v":0.6},{"i":2,"j":1,"v":0.55},{"i":3,"j":1,"v":0.5},{"i":4,"j":1,"v":0.5},{"i":5,"j":1,"v":0.45},{"i":6,"j":1,"v":0.45},{"i":7,"j":1,"v":0.4},{"i":8,"j":1,"v":0.4},{"i":9,"j":1,"v":0.35},{"i":10,"j":1,"v":0.3},{"i":11,"j":1,"v":0.3},{"i":12,"j":1,"v":0.25},{"i":13,"j":1,"v":0.2},{"i":14,"j":1,"v":0.15},{"i":15,"j":1,"v":0.1},{"i":16,"j":1,"v":0},{"i":17,"j":1,"v":0},{"i":18,"j":1,"v":0},{"i":19,"j":1,"v":0},
{"i":0,"j":2,"v":0.7},{"i":1,"j":2,"v":0.7},{"i":2,"j":2,"v":0.7},{"i":3,"j":2,"v":0.75},{"i":4,"j":2,"v":0.7},{"i":5,"j":2,"v":0.7},{"i":6,"j":2,"v":0.7},{"i":7,"j":2,"v":0.7},{"i":8,"j":2,"v":0.7},{"i":9,"j":2,"v":0.65},{"i":10,"j":2,"v":0.6},{"i":11,"j":2,"v":0.6},{"i":12,"j":2,"v":0.5},{"i":13,"j":2,"v":0.45},{"i":14,"j":2,"v":0.35},{"i":15,"j":2,"v":0.25},{"i":16,"j":2,"v":0.1},{"i":17,"j":2,"v":0},{"i":18,"j":2,"v":0},{"i":19,"j":2,"v":0},
{"i":0,"j":3,"v":0.8},{"i":1,"j":3,"v":0.85},{"i":2,"j":3,"v":0.95},{"i":3,"j":3,"v":1},{"i":4,"j":3,"v":1},{"i":5,"j":3,"v":1},{"i":6,"j":3,"v":1.05},{"i":7,"j":3,"v":1.05},{"i":8,"j":3,"v":1.05},{"i":9,"j":3,"v":1},{"i":10,"j":3,"v":0.95},{"i":11,"j":3,"v":0.95},{"i":12,"j":3,"v":0.85},{"i":13,"j":3,"v":0.75},{"i":14,"j":3,"v":0.6},{"i":15,"j":3,"v":0.5},{"i":16,"j":3,"v":0.3},{"i":17,"j":3,"v":0.05},{"i":18,"j":3,"v":0},{"i":19,"j":3,"v":0},
{"i":0,"j":4,"v":1},{"i":1,"j":4,"v":1.1},{"i":2,"j":4,"v":1.2},{"i":3,"j":4,"v":1.3},{"i":4,"j":4,"v":1.35},{"i":5,"j":4,"v":1.4},{"i":6,"j":4,"v":1.5},{"i":7,"j":4,"v":1.5},{"i":8,"j":4,"v":1.55},{"i":9,"j":4,"v":1.4},{"i":10,"j":4,"v":1.35},{"i":11,"j":4,"v":1.3},{"i":12,"j":4,"v":1.2},{"i":13,"j":4,"v":1.05},{"i":14,"j":4,"v":0.95},{"i":15,"j":4,"v":0.8},{"i":16,"j":4,"v":0.55},{"i":17,"j":4,"v":0.3},{"i":18,"j":4,"v":0},{"i":19,"j":4,"v":0},
{"i":0,"j":5,"v":1.2},{"i":1,"j":5,"v":1.4},{"i":2,"j":5,"v":1.5},{"i":3,"j":5,"v":1.6},{"i":4,"j":5,"v":1.65},{"i":5,"j":5,"v":1.75},{"i":6,"j":5,"v":1.85},{"i":7,"j":5,"v":2},{"i":8,"j":5,"v":2.1},{"i":9,"j":5,"v":2.05},{"i":10,"j":5,"v":1.7},{"i":11,"j":5,"v":1.65},{"i":12,"j":5,"v":1.55},{"i":13,"j":5,"v":1.5},{"i":14,"j":5,"v":1.35},{"i":15,"j":5,"v":1.15},{"i":16,"j":5,"v":0.9},{"i":17,"j":5,"v":0.65},{"i":18,"j":5,"v":0.3},{"i":19,"j":5,"v":0},
{"i":0,"j":6,"v":1.7},{"i":1,"j":6,"v":1.85},{"i":2,"j":6,"v":1.95},{"i":3,"j":6,"v":2},{"i":4,"j":6,"v":2},{"i":5,"j":6,"v":1.95},{"i":6,"j":6,"v":1.95},{"i":7,"j":6,"v":2.2},{"i":8,"j":6,"v":2.6},{"i":9,"j":6,"v":2.5},{"i":10,"j":6,"v":2},{"i":11,"j":6,"v":1.9},{"i":12,"j":6,"v":1.85},{"i":13,"j":6,"v":1.8},{"i":14,"j":6,"v":1.7},{"i":15,"j":6,"v":1.7},{"i":16,"j":6,"v":1.6},{"i":17,"j":6,"v":1.4},{"i":18,"j":6,"v":0.9},{"i":19,"j":6,"v":0.5},
{"i":0,"j":7,"v":2},{"i":1,"j":7,"v":2.05},{"i":2,"j":7,"v":2.1},{"i":3,"j":7,"v":2.1},{"i":4,"j":7,"v":2.05},{"i":5,"j":7,"v":2.05},{"i":6,"j":7,"v":2},{"i":7,"j":7,"v":2.1},{"i":8,"j":7,"v":2.35},{"i":9,"j":7,"v":2.3},{"i":10,"j":7,"v":2},{"i":11,"j":7,"v":1.95},{"i":12,"j":7,"v":1.8},{"i":13,"j":7,"v":1.7},{"i":14,"j":7,"v":1.75},{"i":15,"j":7,"v":1.75},{"i":16,"j":7,"v":1.7},{"i":17,"j":7,"v":1.6},{"i":18,"j":7,"v":1.2},{"i":19,"j":7,"v":0.7},
{"i":0,"j":8,"v":1.9},{"i":1,"j":8,"v":1.6},{"i":2,"j":8,"v":1.6},{"i":3,"j":8,"v":1.8},{"i":4,"j":8,"v":2.05},{"i":5,"j":8,"v":2.1},{"i":6,"j":8,"v":1.95},{"i":7,"j":8,"v":1.9},{"i":8,"j":8,"v":2.05},{"i":9,"j":8,"v":2.1},{"i":10,"j":8,"v":1.95},{"i":11,"j":8,"v":2},{"i":12,"j":8,"v":1.8},{"i":13,"j":8,"v":1.75},{"i":14,"j":8,"v":1.75},{"i":15,"j":8,"v":1.75},{"i":16,"j":8,"v":1.75},{"i":17,"j":8,"v":1.55},{"i":18,"j":8,"v":1.2},{"i":19,"j":8,"v":0.7},
{"i":0,"j":9,"v":1.65},{"i":1,"j":9,"v":1.45},{"i":2,"j":9,"v":1.45},{"i":3,"j":9,"v":1.75},{"i":4,"j":9,"v":2.1},{"i":5,"j":9,"v":2.15},{"i":6,"j":9,"v":1.85},{"i":7,"j":9,"v":1.95},{"i":8,"j":9,"v":2.05},{"i":9,"j":9,"v":2.15},{"i":10,"j":9,"v":2.15},{"i":11,"j":9,"v":2.2},{"i":12,"j":9,"v":2.05},{"i":13,"j":9,"v":1.9},{"i":14,"j":9,"v":1.9},{"i":15,"j":9,"v":1.9},{"i":16,"j":9,"v":1.8},{"i":17,"j":9,"v":1.55},{"i":18,"j":9,"v":1.15},{"i":19,"j":9,"v":0.7},
{"i":0,"j":10,"v":1.75},{"i":1,"j":10,"v":1.8},{"i":2,"j":10,"v":1.85},{"i":3,"j":10,"v":2.05},{"i":4,"j":10,"v":2.25},{"i":5,"j":10,"v":2.25},{"i":6,"j":10,"v":2.1},{"i":7,"j":10,"v":2.1},{"i":8,"j":10,"v":2.15},{"i":9,"j":10,"v":2.25},{"i":10,"j":10,"v":2.2},{"i":11,"j":10,"v":2.2},{"i":12,"j":10,"v":2.15},{"i":13,"j":10,"v":2.1},{"i":14,"j":10,"v":2.05},{"i":15,"j":10,"v":1.95},{"i":16,"j":10,"v":1.75},{"i":17,"j":10,"v":1.45},{"i":18,"j":10,"v":1},{"i":19,"j":10,"v":0.6},
{"i":0,"j":11,"v":1.6},{"i":1,"j":11,"v":1.8},{"i":2,"j":11,"v":2},{"i":3,"j":11,"v":2.2},{"i":4,"j":11,"v":2.4},{"i":5,"j":11,"v":2.35},{"i":6,"j":11,"v":2.25},{"i":7,"j":11,"v":2.3},{"i":8,"j":11,"v":2.2},{"i":9,"j":11,"v":2.1},{"i":10,"j":11,"v":2.1},{"i":11,"j":11,"v":2.15},{"i":12,"j":11,"v":2.1},{"i":13,"j":11,"v":2.05},{"i":14,"j":11,"v":2.2},{"i":15,"j":11,"v":2.35},{"i":16,"j":11,"v":1.75},{"i":17,"j":11,"v":1.4},{"i":18,"j":11,"v":1},{"i":19,"j":11,"v":0.55},
{"i":0,"j":12,"v":1.3},{"i":1,"j":12,"v":1.6},{"i":2,"j":12,"v":1.9},{"i":3,"j":12,"v":2.1},{"i":4,"j":12,"v":2.3},{"i":5,"j":12,"v":2.4},{"i":6,"j":12,"v":2.45},{"i":7,"j":12,"v":2.45},{"i":8,"j":12,"v":2.3},{"i":9,"j":12,"v":2.05},{"i":10,"j":12,"v":2},{"i":11,"j":12,"v":2.05},{"i":12,"j":12,"v":2.05},{"i":13,"j":12,"v":1.95},{"i":14,"j":12,"v":2},{"i":15,"j":12,"v":1.85},{"i":16,"j":12,"v":1.65},{"i":17,"j":12,"v":1.35},{"i":18,"j":12,"v":0.9},{"i":19,"j":12,"v":0.5},
{"i":0,"j":13,"v":1.05},{"i":1,"j":13,"v":1.35},{"i":2,"j":13,"v":1.7},{"i":3,"j":13,"v":2},{"i":4,"j":13,"v":2.15},{"i":5,"j":13,"v":2.25},{"i":6,"j":13,"v":2.3},{"i":7,"j":13,"v":2.35},{"i":8,"j":13,"v":2.25},{"i":9,"j":13,"v":2.1},{"i":10,"j":13,"v":2.1},{"i":11,"j":13,"v":2.15},{"i":12,"j":13,"v":2.35},{"i":13,"j":13,"v":2.4},{"i":14,"j":13,"v":2},{"i":15,"j":13,"v":1.8},{"i":16,"j":13,"v":1.55},{"i":17,"j":13,"v":1.2},{"i":18,"j":13,"v":0.75},{"i":19,"j":13,"v":0.35},
{"i":0,"j":14,"v":0.9},{"i":1,"j":14,"v":1.2},{"i":2,"j":14,"v":1.5},{"i":3,"j":14,"v":1.85},{"i":4,"j":14,"v":2},{"i":5,"j":14,"v":2.15},{"i":6,"j":14,"v":2.2},{"i":7,"j":14,"v":2.2},{"i":8,"j":14,"v":2.2},{"i":9,"j":14,"v":2.15},{"i":10,"j":14,"v":2.1},{"i":11,"j":14,"v":2.2},{"i":12,"j":14,"v":2.4},{"i":13,"j":14,"v":2.4},{"i":14,"j":14,"v":2},{"i":15,"j":14,"v":1.75},{"i":16,"j":14,"v":1.45},{"i":17,"j":14,"v":1.05},{"i":18,"j":14,"v":0.55},{"i":19,"j":14,"v":0.1},
{"i":0,"j":15,"v":0.8},{"i":1,"j":15,"v":1.05},{"i":2,"j":15,"v":1.3},{"i":3,"j":15,"v":1.65},{"i":4,"j":15,"v":1.85},{"i":5,"j":15,"v":2.05},{"i":6,"j":15,"v":2.1},{"i":7,"j":15,"v":2.1},{"i":8,"j":15,"v":2.1},{"i":9,"j":15,"v":2.1},{"i":10,"j":15,"v":2.05},{"i":11,"j":15,"v":2.05},{"i":12,"j":15,"v":2.1},{"i":13,"j":15,"v":2.05},{"i":14,"j":15,"v":1.85},{"i":15,"j":15,"v":1.5},{"i":16,"j":15,"v":1.15},{"i":17,"j":15,"v":0.6},{"i":18,"j":15,"v":0.05},{"i":19,"j":15,"v":0},
{"i":0,"j":16,"v":0.7},{"i":1,"j":16,"v":0.9},{"i":2,"j":16,"v":1.15},{"i":3,"j":16,"v":1.45},{"i":4,"j":16,"v":1.6},{"i":5,"j":16,"v":1.8},{"i":6,"j":16,"v":1.9},{"i":7,"j":16,"v":1.9},{"i":8,"j":16,"v":1.95},{"i":9,"j":16,"v":1.95},{"i":10,"j":16,"v":1.9},{"i":11,"j":16,"v":1.85},{"i":12,"j":16,"v":1.85},{"i":13,"j":16,"v":1.75},{"i":14,"j":16,"v":1.55},{"i":15,"j":16,"v":1.2},{"i":16,"j":16,"v":0.6},{"i":17,"j":16,"v":0},{"i":18,"j":16,"v":0},{"i":19,"j":16,"v":0},
{"i":0,"j":17,"v":0.6},{"i":1,"j":17,"v":0.75},{"i":2,"j":17,"v":0.9},{"i":3,"j":17,"v":1.15},{"i":4,"j":17,"v":1.35},{"i":5,"j":17,"v":1.5},{"i":6,"j":17,"v":1.6},{"i":7,"j":17,"v":1.65},{"i":8,"j":17,"v":1.65},{"i":9,"j":17,"v":1.65},{"i":10,"j":17,"v":1.65},{"i":11,"j":17,"v":1.6},{"i":12,"j":17,"v":1.55},{"i":13,"j":17,"v":1.4},{"i":14,"j":17,"v":1.1},{"i":15,"j":17,"v":0.8},{"i":16,"j":17,"v":0.1},{"i":17,"j":17,"v":0},{"i":18,"j":17,"v":0},{"i":19,"j":17,"v":0}
],
"f2":[
{"i":0,"j":0,"v":0.6},{"i":1,"j":0,"v":0.5},{"i":2,"j":0,"v":0.4},{"i":3,"j":0,"v":0.35},{"i":4,"j":0,"v":0.4},{"i":5,"j":0,"v":0.5},{"i":6,"j":0,"v":0.6},{"i":7,"j":0,"v":0.65},{"i":8,"j":0,"v":0.6},{"i":9,"j":0,"v":0.55},{"i":10,"j":0,"v":0.5},{"i":11,"j":0,"v":0.45},{"i":12,"j":0,"v":0.4},{"i":13,"j":0,"v":0.35},{"i":14,"j":0,"v":0.3},{"i":15,"j":0,"v":0.15},{"i":16,"j":0,"v":0.05},{"i":17,"j":0,"v":0},{"i":18,"j":0,"v":0},{"i":19,"j":0,"v":0},
{"i":0,"j":1,"v":0.6},{"i":1,"j":1,"v":0.55},{"i":2,"j":1,"v":0.45},{"i":3,"j":1,"v":0.5},{"i":4,"j":1,"v":0.55},{"i":5,"j":1,"v":0.75},{"i":6,"j":1,"v":0.85},{"i":7,"j":1,"v":0.9},{"i":8,"j":1,"v":0.85},{"i":9,"j":1,"v":0.85},{"i":10,"j":1,"v":0.85},{"i":11,"j":1,"v":0.85},{"i":12,"j":1,"v":0.8},{"i":13,"j":1,"v":0.7},{"i":14,"j":1,"v":0.5},{"i":15,"j":1,"v":0.3},{"i":16,"j":1,"v":0.15},{"i":17,"j":1,"v":0},{"i":18,"j":1,"v":0},{"i":19,"j":1,"v":0},
{"i":0,"j":2,"v":0.65},{"i":1,"j":2,"v":0.6},{"i":2,"j":2,"v":0.6},{"i":3,"j":2,"v":0.7},{"i":4,"j":2,"v":0.85},{"i":5,"j":2,"v":1},{"i":6,"j":2,"v":1.05},{"i":7,"j":2,"v":1.05},{"i":8,"j":2,"v":1.1},{"i":9,"j":2,"v":1.15},{"i":10,"j":2,"v":1.2},{"i":11,"j":2,"v":1.3},{"i":12,"j":2,"v":1.4},{"i":13,"j":2,"v":1.2},{"i":14,"j":2,"v":0.95},{"i":15,"j":2,"v":0.7},{"i":16,"j":2,"v":0.45},{"i":17,"j":2,"v":0.15},{"i":18,"j":2,"v":0},{"i":19,"j":2,"v":0},
{"i":0,"j":3,"v":0.75},{"i":1,"j":3,"v":0.75},{"i":2,"j":3,"v":0.85},{"i":3,"j":3,"v":1},{"i":4,"j":3,"v":1.1},{"i":5,"j":3,"v":1.25},{"i":6,"j":3,"v":1.2},{"i":7,"j":3,"v":1.05},{"i":8,"j":3,"v":1.1},{"i":9,"j":3,"v":1.3},{"i":10,"j":3,"v":1.5},{"i":11,"j":3,"v":1.75},{"i":12,"j":3,"v":1.9},{"i":13,"j":3,"v":1.7},{"i":14,"j":3,"v":1.3},{"i":15,"j":3,"v":1},{"i":16,"j":3,"v":0.7},{"i":17,"j":3,"v":0.4},{"i":18,"j":3,"v":0.15},{"i":19,"j":3,"v":0},
{"i":0,"j":4,"v":0.95},{"i":1,"j":4,"v":1},{"i":2,"j":4,"v":1.1},{"i":3,"j":4,"v":1.25},{"i":4,"j":4,"v":1.4},{"i":5,"j":4,"v":1.55},{"i":6,"j":4,"v":1.55},{"i":7,"j":4,"v":1.4},{"i":8,"j":4,"v":1.55},{"i":9,"j":4,"v":1.75},{"i":10,"j":4,"v":1.75},{"i":11,"j":4,"v":1.85},{"i":12,"j":4,"v":2},{"i":13,"j":4,"v":1.85},{"i":14,"j":4,"v":1.4},{"i":15,"j":4,"v":1.05},{"i":16,"j":4,"v":0.85},{"i":17,"j":4,"v":0.65},{"i":18,"j":4,"v":0.35},{"i":19,"j":4,"v":0.1},
{"i":0,"j":5,"v":1.2},{"i":1,"j":5,"v":1.25},{"i":2,"j":5,"v":1.4},{"i":3,"j":5,"v":1.5},{"i":4,"j":5,"v":1.6},{"i":5,"j":5,"v":1.75},{"i":6,"j":5,"v":1.95},{"i":7,"j":5,"v":2.2},{"i":8,"j":5,"v":2.3},{"i":9,"j":5,"v":2.1},{"i":10,"j":5,"v":1.9},{"i":11,"j":5,"v":1.75},{"i":12,"j":5,"v":1.8},{"i":13,"j":5,"v":1.7},{"i":14,"j":5,"v":1.35},{"i":15,"j":5,"v":1.1},{"i":16,"j":5,"v":1.1},{"i":17,"j":5,"v":0.95},{"i":18,"j":5,"v":0.6},{"i":19,"j":5,"v":0.25},
{"i":0,"j":6,"v":1.25},{"i":1,"j":6,"v":1.35},{"i":2,"j":6,"v":1.45},{"i":3,"j":6,"v":1.55},{"i":4,"j":6,"v":1.7},{"i":5,"j":6,"v":1.9},{"i":6,"j":6,"v":2.15},{"i":7,"j":6,"v":2.45},{"i":8,"j":6,"v":2.65},{"i":9,"j":6,"v":2.4},{"i":10,"j":6,"v":2.1},{"i":11,"j":6,"v":1.95},{"i":12,"j":6,"v":1.8},{"i":13,"j":6,"v":1.6},{"i":14,"j":6,"v":1.2},{"i":15,"j":6,"v":1.15},{"i":16,"j":6,"v":1.25},{"i":17,"j":6,"v":1.15},{"i":18,"j":6,"v":0.75},{"i":19,"j":6,"v":0.35},
{"i":0,"j":7,"v":1},{"i":1,"j":7,"v":0.85},{"i":2,"j":7,"v":0.85},{"i":3,"j":7,"v":1.25},{"i":4,"j":7,"v":1.6},{"i":5,"j":7,"v":1.85},{"i":6,"j":7,"v":2.1},{"i":7,"j":7,"v":2.3},{"i":8,"j":7,"v":2.5},{"i":9,"j":7,"v":2.35},{"i":10,"j":7,"v":2.2},{"i":11,"j":7,"v":2.15},{"i":12,"j":7,"v":1.95},{"i":13,"j":7,"v":1.65},{"i":14,"j":7,"v":1.3},{"i":15,"j":7,"v":1.35},{"i":16,"j":7,"v":1.35},{"i":17,"j":7,"v":1.25},{"i":18,"j":7,"v":0.8},{"i":19,"j":7,"v":0.35},
{"i":0,"j":8,"v":1.05},{"i":1,"j":8,"v":0.9},{"i":2,"j":8,"v":0.9},{"i":3,"j":8,"v":1.25},{"i":4,"j":8,"v":1.7},{"i":5,"j":8,"v":2.05},{"i":6,"j":8,"v":2.2},{"i":7,"j":8,"v":2.2},{"i":8,"j":8,"v":2.3},{"i":9,"j":8,"v":2.45},{"i":10,"j":8,"v":2.6},{"i":11,"j":8,"v":2.55},{"i":12,"j":8,"v":2.3},{"i":13,"j":8,"v":1.85},{"i":14,"j":8,"v":1.5},{"i":15,"j":8,"v":1.45},{"i":16,"j":8,"v":1.3},{"i":17,"j":8,"v":1.05},{"i":18,"j":8,"v":0.7},{"i":19,"j":8,"v":0.3},
{"i":0,"j":9,"v":1.2},{"i":1,"j":9,"v":1.3},{"i":2,"j":9,"v":1.5},{"i":3,"j":9,"v":1.75},{"i":4,"j":9,"v":2.2},{"i":5,"j":9,"v":2.45},{"i":6,"j":9,"v":2.3},{"i":7,"j":9,"v":2.3},{"i":8,"j":9,"v":2.4},{"i":9,"j":9,"v":2.75},{"i":10,"j":9,"v":3.1},{"i":11,"j":9,"v":3.05},{"i":12,"j":9,"v":2.65},{"i":13,"j":9,"v":2.35},{"i":14,"j":9,"v":1.85},{"i":15,"j":9,"v":1.5},{"i":16,"j":9,"v":1.15},{"i":17,"j":9,"v":0.9},{"i":18,"j":9,"v":0.55},{"i":19,"j":9,"v":0.25},
{"i":0,"j":10,"v":1.1},{"i":1,"j":10,"v":1.35},{"i":2,"j":10,"v":1.75},{"i":3,"j":10,"v":2.2},{"i":4,"j":10,"v":2.6},{"i":5,"j":10,"v":2.65},{"i":6,"j":10,"v":2.45},{"i":7,"j":10,"v":2.3},{"i":8,"j":10,"v":2.4},{"i":9,"j":10,"v":2.6},{"i":10,"j":10,"v":2.7},{"i":11,"j":10,"v":2.85},{"i":12,"j":10,"v":2.85},{"i":13,"j":10,"v":2.65},{"i":14,"j":10,"v":2.2},{"i":15,"j":10,"v":1.55},{"i":16,"j":10,"v":1.1},{"i":17,"j":10,"v":0.8},{"i":18,"j":10,"v":0.45},{"i":19,"j":10,"v":0.15},
{"i":0,"j":11,"v":0.9},{"i":1,"j":11,"v":1.15},{"i":2,"j":11,"v":1.7},{"i":3,"j":11,"v":2.35},{"i":4,"j":11,"v":2.75},{"i":5,"j":11,"v":2.8},{"i":6,"j":11,"v":2.65},{"i":7,"j":11,"v":2.4},{"i":8,"j":11,"v":2.2},{"i":9,"j":11,"v":2.1},{"i":10,"j":11,"v":2.15},{"i":11,"j":11,"v":2.3},{"i":12,"j":11,"v":2.3},{"i":13,"j":11,"v":2.25},{"i":14,"j":11,"v":1.9},{"i":15,"j":11,"v":1.45},{"i":16,"j":11,"v":1.05},{"i":17,"j":11,"v":0.75},{"i":18,"j":11,"v":0.4},{"i":19,"j":11,"v":0.1},
{"i":0,"j":12,"v":0.75},{"i":1,"j":12,"v":1.05},{"i":2,"j":12,"v":1.6},{"i":3,"j":12,"v":2.4},{"i":4,"j":12,"v":2.9},{"i":5,"j":12,"v":2.95},{"i":6,"j":12,"v":2.65},{"i":7,"j":12,"v":2.35},{"i":8,"j":12,"v":2.1},{"i":9,"j":12,"v":1.5},{"i":10,"j":12,"v":1.5},{"i":11,"j":12,"v":1.6},{"i":12,"j":12,"v":1.9},{"i":13,"j":12,"v":2},{"i":14,"j":12,"v":1.75},{"i":15,"j":12,"v":1.4},{"i":16,"j":12,"v":1.05},{"i":17,"j":12,"v":0.75},{"i":18,"j":12,"v":0.3},{"i":19,"j":12,"v":0},
{"i":0,"j":13,"v":0.6},{"i":1,"j":13,"v":0.85},{"i":2,"j":13,"v":1.35},{"i":3,"j":13,"v":2.1},{"i":4,"j":13,"v":2.75},{"i":5,"j":13,"v":2.8},{"i":6,"j":13,"v":2.5},{"i":7,"j":13,"v":2.3},{"i":8,"j":13,"v":2.15},{"i":9,"j":13,"v":1.75},{"i":10,"j":13,"v":1.7},{"i":11,"j":13,"v":1.9},{"i":12,"j":13,"v":1.95},{"i":13,"j":13,"v":1.95},{"i":14,"j":13,"v":1.65},{"i":15,"j":13,"v":1.3},{"i":16,"j":13,"v":1},{"i":17,"j":13,"v":0.6},{"i":18,"j":13,"v":0.1},{"i":19,"j":13,"v":0},
{"i":0,"j":14,"v":0.5},{"i":1,"j":14,"v":0.65},{"i":2,"j":14,"v":0.95},{"i":3,"j":14,"v":1.5},{"i":4,"j":14,"v":2.1},{"i":5,"j":14,"v":2.2},{"i":6,"j":14,"v":2.2},{"i":7,"j":14,"v":2.2},{"i":8,"j":14,"v":2.15},{"i":9,"j":14,"v":2.1},{"i":10,"j":14,"v":2.05},{"i":11,"j":14,"v":1.95},{"i":12,"j":14,"v":1.85},{"i":13,"j":14,"v":1.75},{"i":14,"j":14,"v":1.5},{"i":15,"j":14,"v":1.15},{"i":16,"j":14,"v":0.75},{"i":17,"j":14,"v":0.15},{"i":18,"j":14,"v":0},{"i":19,"j":14,"v":0},
{"i":0,"j":15,"v":0.4},{"i":1,"j":15,"v":0.5},{"i":2,"j":15,"v":0.6},{"i":3,"j":15,"v":0.75},{"i":4,"j":15,"v":1.1},{"i":5,"j":15,"v":1.65},{"i":6,"j":15,"v":1.85},{"i":7,"j":15,"v":1.95},{"i":8,"j":15,"v":1.95},{"i":9,"j":15,"v":1.9},{"i":10,"j":15,"v":1.85},{"i":11,"j":15,"v":1.75},{"i":12,"j":15,"v":1.6},{"i":13,"j":15,"v":1.45},{"i":14,"j":15,"v":1.2},{"i":15,"j":15,"v":0.85},{"i":16,"j":15,"v":0.1},{"i":17,"j":15,"v":0},{"i":18,"j":15,"v":0},{"i":19,"j":15,"v":0},
{"i":0,"j":16,"v":0.4},{"i":1,"j":16,"v":0.45},{"i":2,"j":16,"v":0.5},{"i":3,"j":16,"v":0.55},{"i":4,"j":16,"v":0.75},{"i":5,"j":16,"v":1.2},{"i":6,"j":16,"v":1.5},{"i":7,"j":16,"v":1.6},{"i":8,"j":16,"v":1.65},{"i":9,"j":16,"v":1.6},{"i":10,"j":16,"v":1.55},{"i":11,"j":16,"v":1.45},{"i":12,"j":16,"v":1.35},{"i":13,"j":16,"v":1.2},{"i":14,"j":16,"v":0.95},{"i":15,"j":16,"v":0.5},{"i":16,"j":16,"v":0},{"i":17,"j":16,"v":0},{"i":18,"j":16,"v":0},{"i":19,"j":16,"v":0},
{"i":0,"j":17,"v":0.4},{"i":1,"j":17,"v":0.45},{"i":2,"j":17,"v":0.5},{"i":3,"j":17,"v":0.55},{"i":4,"j":17,"v":0.7},{"i":5,"j":17,"v":0.95},{"i":6,"j":17,"v":1.2},{"i":7,"j":17,"v":1.3},{"i":8,"j":17,"v":1.3},{"i":9,"j":17,"v":1.3},{"i":10,"j":17,"v":1.25},{"i":11,"j":17,"v":1.15},{"i":12,"j":17,"v":1.05},{"i":13,"j":17,"v":0.95},{"i":14,"j":17,"v":0.7},{"i":15,"j":17,"v":0.2},{"i":16,"j":17,"v":0},{"i":17,"j":17,"v":0},{"i":18,"j":17,"v":0},{"i":19,"j":17,"v":0}
]
},
"layer":[
{"data":{"name":"arrow"},"mark":{"type":"line","fill":"#ccd3e8","stroke":null,"interpolate":"linear-closed"},"encoding":{"x":{"field":"x","type":"quantitative","axis":null,"scale":{"domain":[0,1830],"range":[0,1830],"nice":false,"zero":false}},"y":{"field":"y","type":"quantitative","axis":null,"scale":{"domain":[0,1011],"range":[0,1011],"nice":false,"zero":false}},"order":{"field":"o"}}},
{"data":{"name":"panels"},"mark":{"type":"rect","fill":"white","stroke":"#ececec","strokeWidth":1},"encoding":{"x":{"field":"x0","type":"quantitative","axis":null,"scale":{"domain":[0,1830],"range":[0,1830],"nice":false,"zero":false}},"x2":{"field":"x1"},"y":{"field":"y0","type":"quantitative","axis":null,"scale":{"domain":[0,1011],"range":[0,1011],"nice":false,"zero":false}},"y2":{"field":"y1"}}},
{"data":{"name":"steps"},"mark":{"type":"point","filled":true,"fill":"#0455b7","stroke":"white","strokeWidth":1,"opacity":1},"encoding":{"x":{"field":"x","type":"quantitative","axis":null,"scale":{"domain":[0,1830],"range":[0,1830],"nice":false,"zero":false}},"y":{"field":"y","type":"quantitative","axis":null,"scale":{"domain":[0,1011],"range":[0,1011],"nice":false,"zero":false}},"size":{"field":"s","type":"quantitative","legend":null,"scale":{"domain":[1,2,3,4],"range":[361,1089,1936,3600],"zero":false}}}},
{"data":{"name":"stepText"},"mark":{"type":"text","fontSize":24.8,"fontWeight":"bold","align":"left","baseline":"top","lineBreak":"\n","lineHeight":25.8},"encoding":{"x":{"field":"x","type":"quantitative","axis":null,"scale":{"domain":[0,1830],"range":[0,1830],"nice":false,"zero":false}},"y":{"field":"y","type":"quantitative","axis":null,"scale":{"domain":[0,1011],"range":[0,1011],"nice":false,"zero":false}},"text":{"field":"t"}}},
{"data":{"values":[{"t":"e","x":8,"y":57},{"t":"st","x":37,"y":120},{"t":"ss","x":23,"y":302}]},"mark":{"type":"text","font":"Lato","fontSize":45,"align":"right","baseline":"alphabetic"},"encoding":{"x":{"field":"x","type":"quantitative","axis":null,"scale":{"domain":[0,1830],"range":[0,1830],"nice":false,"zero":false}},"y":{"field":"y","type":"quantitative","axis":null,"scale":{"domain":[0,1011],"range":[0,1011],"nice":false,"zero":false}},"text":{"field":"t"}}},
{"data":{"values":[{"t":"AI/ML Workflow","x":938,"y":850}]},"mark":{"type":"text","font":"Lato","fontWeight":"bold","fontSize":68,"align":"left","baseline":"alphabetic"},"encoding":{"x":{"field":"x","type":"quantitative","axis":null,"scale":{"domain":[0,1830],"range":[0,1830],"nice":false,"zero":false}},"y":{"field":"y","type":"quantitative","axis":null,"scale":{"domain":[0,1011],"range":[0,1011],"nice":false,"zero":false}},"text":{"field":"t"}}},
{"data":{"values":[{"t":"Correlation Matrix","x":611,"y":141},{"t":"Reference Concentration Field","x":1616,"y":72},{"t":"ML Predicted Concentration Field","x":1616,"y":407}]},"mark":{"type":"text","fontSize":22.8,"fontWeight":"bold"},"encoding":{"x":{"field":"x","type":"quantitative","axis":null,"scale":{"domain":[0,1830],"range":[0,1830],"nice":false,"zero":false}},"y":{"field":"y","type":"quantitative","axis":null,"scale":{"domain":[0,1011],"range":[0,1011],"nice":false,"zero":false}},"text":{"field":"t"}}},
{"data":{"values":[{"t":"Proxy Variable = Specific Conductance","x":1076.5,"y":15},{"t":"Contaminant = Tritium","x":1076.5,"y":38}]},"mark":{"type":"text","fontSize":19.6,"fontWeight":"bold"},"encoding":{"x":{"field":"x","type":"quantitative","axis":null,"scale":{"domain":[0,1830],"range":[0,1830],"nice":false,"zero":false}},"y":{"field":"y","type":"quantitative","axis":null,"scale":{"domain":[0,1011],"range":[0,1011],"nice":false,"zero":false}},"text":{"field":"t"}}},
{"data":{"values":[{"t":"Actual Concentration","x":1080,"y":399},{"t":"Easting","x":1620.7,"y":373},{"t":"Easting","x":1625,"y":701},{"t":"Year","x":340.6,"y":999}]},"mark":{"type":"text","fontSize":18.5,"fontWeight":"bold"},"encoding":{"x":{"field":"x","type":"quantitative","axis":null,"scale":{"domain":[0,1830],"range":[0,1830],"nice":false,"zero":false}},"y":{"field":"y","type":"quantitative","axis":null,"scale":{"domain":[0,1011],"range":[0,1011],"nice":false,"zero":false}},"text":{"field":"t"}}},
{"data":{"values":[{"t":"Tritium: 38 Wells","x":463,"y":665}]},"mark":{"type":"text","fontSize":25,"fontWeight":"bold"},"encoding":{"x":{"field":"x","type":"quantitative","axis":null,"scale":{"domain":[0,1830],"range":[0,1830],"nice":false,"zero":false}},"y":{"field":"y","type":"quantitative","axis":null,"scale":{"domain":[0,1011],"range":[0,1011],"nice":false,"zero":false}},"text":{"field":"t"}}},
{"data":{"values":[{"t":"Predicted Concentration","x":883,"y":182},{"t":"Northing","x":1410.7,"y":236},{"t":"Northing","x":1415,"y":563},{"t":"Log Tritium Concentration","x":1809,"y":225},{"t":"Log Tritium Concentration","x":1804,"y":553}]},"mark":{"type":"text","fontSize":18.5,"fontWeight":"bold","angle":270},"encoding":{"x":{"field":"x","type":"quantitative","axis":null,"scale":{"domain":[0,1830],"range":[0,1830],"nice":false,"zero":false}},"y":{"field":"y","type":"quantitative","axis":null,"scale":{"domain":[0,1011],"range":[0,1011],"nice":false,"zero":false}},"text":{"field":"t"}}},
{"data":{"values":[{"t":"Concentration (pCi/L)","x":27.5,"y":785}]},"mark":{"type":"text","fontSize":21,"fontWeight":"bold","angle":270},"encoding":{"x":{"field":"x","type":"quantitative","axis":null,"scale":{"domain":[0,1830],"range":[0,1830],"nice":false,"zero":false}},"y":{"field":"y","type":"quantitative","axis":null,"scale":{"domain":[0,1011],"range":[0,1011],"nice":false,"zero":false}},"text":{"field":"t"}}},
{"data":{"name":"corr"},"mark":{"type":"rect","stroke":"white","strokeWidth":1.5},"encoding":{"x":{"field":"b","type":"nominal","sort":null,"scale":{"domain":["Tritium","Uranium-238","Iodine-129","Specific Conductance","PH","Depth to Water"],"range":[460.8,749.8],"paddingInner":0,"paddingOuter":0},"axis":{"orient":"bottom","zindex":1,"offset":-594,"labelAngle":270,"labelFontSize":22.8,"labelFontWeight":"bold","labelFont":"Liberation Sans","labelColor":"#404040","labelPadding":7}},"y":{"field":"a","type":"nominal","sort":null,"scale":{"domain":["Tritium","Uranium-238","Iodine-129","Specific Conductance","PH","Depth to Water"],"range":[153.9,417],"paddingInner":0,"paddingOuter":0},"axis":{"orient":"left","zindex":1,"offset":-460.8,"labelFontSize":22.8,"labelFontWeight":"bold","labelFont":"Liberation Sans","labelColor":"#404040","labelPadding":6}},"color":{"field":"r","type":"quantitative","scale":{"domain":[-1,-0.8,-0.6,-0.4,-0.2,0,0.2,0.4,0.6,0.8,1],"range":["#67001f","#b2182b","#d6604d","#f4a582","#fddbc7","#f7f7f7","#d1e5f0","#92c5de","#4393c3","#2166ac","#053061"]},"legend":{"orient":"none","legendX":768,"legendY":153,"gradientLength":264,"gradientThickness":13,"title":null,"values":[-1,-0.75,-0.5,-0.25,0,0.25,0.5,0.75,1],"format":".2f","labelFont":"Liberation Sans","labelFontSize":13.5,"labelColor":"#333","labelOffset":7,"labelOverlap":false,"padding":0,"encode":{"labels":{"update":{"baseline":{"value":"middle"}}}}}}}},
{"data":{"name":"corr"},"mark":{"type":"text","fontSize":8.5},"encoding":{"x":{"field":"b","type":"nominal","sort":null,"axis":null,"scale":{"domain":["Tritium","Uranium-238","Iodine-129","Specific Conductance","PH","Depth to Water"],"range":[460.8,749.8],"paddingInner":0,"paddingOuter":0}},"y":{"field":"a","type":"nominal","sort":null,"axis":null,"scale":{"domain":["Tritium","Uranium-238","Iodine-129","Specific Conductance","PH","Depth to Water"],"range":[153.9,417],"paddingInner":0,"paddingOuter":0}},"text":{"field":"l"},"color":{"condition":{"test":"abs(datum.r)>0.45","value":"#f4e9e4"},"value":"#333"}}},
{"data":{"name":"scatter"},"mark":{"type":"circle","color":"#008000","size":50,"opacity":1},"encoding":{"x":{"field":"x","type":"quantitative","scale":{"domain":[0,3.3],"range":[922,1250],"nice":false,"zero":false},"axis":{"orient":"bottom","zindex":1,"offset":-644.3,"values":[0,0.5,1,1.5,2,2.5,3],"format":".1f","labelFlush":false,"labelFont":"Liberation Serif","labelFontSize":14,"labelColor":"#333"}},"y":{"field":"y","type":"quantitative","scale":{"domain":[0,3.5],"range":[366.7,47],"nice":false,"zero":false},"axis":{"orient":"left","zindex":1,"offset":-922,"values":[0,0.5,1,1.5,2,2.5,3,3.5],"format":".1f","labelFlush":false,"labelFont":"Liberation Serif","labelFontSize":14,"labelColor":"#333"}}}},
{"data":{"name":"fit"},"mark":{"type":"line","color":"#ff0000","strokeWidth":2},"encoding":{"x":{"field":"x","type":"quantitative","axis":null,"scale":{"domain":[0,3.3],"range":[922,1250],"nice":false,"zero":false}},"y":{"field":"y","type":"quantitative","axis":null,"scale":{"domain":[0,3.5],"range":[366.7,47],"nice":false,"zero":false}}}},
{"data":{"values":[{"x0":0,"x1":3.3,"y0":0,"y1":3.5}]},"mark":{"type":"rect","fill":null,"stroke":"#808080","strokeWidth":1.5},"encoding":{"x":{"field":"x0","type":"quantitative","axis":null,"scale":{"domain":[0,3.3],"range":[922,1250],"nice":false,"zero":false}},"x2":{"field":"x1"},"y":{"field":"y0","type":"quantitative","axis":null,"scale":{"domain":[0,3.5],"range":[366.7,47],"nice":false,"zero":false}},"y2":{"field":"y1"}}},
{"data":{"values":[{"x0":1.604,"x1":3.128,"y0":0.117,"y1":0.609}]},"mark":{"type":"rect","fill":"white","stroke":"#808080","strokeWidth":1},"encoding":{"x":{"field":"x0","type":"quantitative","axis":null,"scale":{"domain":[0,3.3],"range":[922,1250],"nice":false,"zero":false}},"x2":{"field":"x1"},"y":{"field":"y0","type":"quantitative","axis":null,"scale":{"domain":[0,3.5],"range":[366.7,47],"nice":false,"zero":false}},"y2":{"field":"y1"}}},
{"data":{"values":[{"t":"R² = 0.8","x":2.366,"y":0.363}]},"mark":{"type":"text","fontSize":34,"color":"#404040"},"encoding":{"x":{"field":"x","type":"quantitative","axis":null,"scale":{"domain":[0,3.3],"range":[922,1250],"nice":false,"zero":false}},"y":{"field":"y","type":"quantitative","axis":null,"scale":{"domain":[0,3.5],"range":[366.7,47],"nice":false,"zero":false}},"text":{"field":"t"}}},
{"data":{"name":"ts"},"mark":{"type":"line","strokeWidth":1.2,"interpolate":"monotone"},"encoding":{"x":{"field":"t","type":"quantitative","scale":{"domain":[2002.9,2015.67],"range":[105.2,580],"nice":false,"zero":false},"axis":{"orient":"bottom","zindex":1,"offset":-63.7,"values":[2003,2004,2005,2006,2007,2008,2009,2010,2011,2012,2013,2014,2015],"labelExpr":"datum.value%2==1?format(datum.value,'d'):''","labelFlush":false,"labelOffset":10,"labelPadding":6,"labelFontSize":18,"labelFontWeight":"bold","labelFont":"Liberation Sans","labelColor":"#404040"}},"y":{"field":"c","type":"quantitative","scale":{"domain":[-171,3701],"range":[947.3,639],"nice":false,"zero":false},"axis":{"orient":"left","zindex":1,"offset":-105.2,"values":[0,500,1000,1500,2000,2500,3000,3500],"format":"d","labelOffset":6,"labelPadding":6,"labelFontSize":18,"labelFontWeight":"bold","labelFont":"Liberation Sans","labelColor":"#404040"}},"color":{"field":"w","type":"ordinal","legend":null,"scale":{"domain":[1,2,3,4,5,6,7,8,9,10,11,12,13,14,15,16,17,18,19,20,21,22,23,24,25,26,27,28,29,30,31,32,33,34,35,36,37,38],"range":["#1f77b4","#ff7f0e","#2ca02c","#d62728","#9467bd","#8c564b","#e377c2","#7f7f7f","#bcbd22","#17becf"]}}}},
{"data":{"values":[{"x0":2002.9,"x1":2015.67,"y0":-171,"y1":3701}]},"mark":{"type":"rect","fill":null,"stroke":"#a0a0a0","strokeWidth":2},"encoding":{"x":{"field":"x0","type":"quantitative","axis":null,"scale":{"domain":[2002.9,2015.67],"range":[105.2,580],"nice":false,"zero":false}},"x2":{"field":"x1"},"y":{"field":"y0","type":"quantitative","axis":null,"scale":{"domain":[-171,3701],"range":[947.3,639],"nice":false,"zero":false}},"y2":{"field":"y1"}}},
{"data":{"name":"f1"},"mark":{"type":"rect","width":14.5,"height":14.4},"encoding":{"x":{"field":"i","type":"ordinal","axis":null,"scale":{"range":[1469.3,1739.3],"paddingInner":0,"paddingOuter":0}},"y":{"field":"j","type":"ordinal","axis":null,"scale":{"range":[98.3,339.3],"paddingInner":0,"paddingOuter":0}},"color":{"field":"v","type":"quantitative","scale":{"scheme":"plasma","domain":[0,2.65]},"legend":null}}},
{"data":{"name":"f1"},"mark":{"type":"rect"},"encoding":{"x":{"field":"i","type":"ordinal","axis":null,"scale":{"range":[1469.3,1739.3],"paddingInner":0,"paddingOuter":0}},"y":{"field":"j","type":"ordinal","axis":null,"scale":{"range":[98.3,339.3],"paddingInner":0,"paddingOuter":0}},"color":{"field":"v","type":"quantitative","scale":{"scheme":"plasma","domain":[0,2.65]},"legend":{"orient":"none","legendX":1756,"legendY":99,"gradientLength":240,"gradientThickness":12,"title":null,"values":[0,0.5,1,1.5,2,2.5],"format":".1f","labelFont":"Liberation Serif","labelFontSize":14,"labelColor":"#333","labelOffset":7,"padding":0,"encode":{"labels":{"update":{"baseline":{"value":"middle"}}}}}}}},
{"data":{"name":"wells"},"mark":{"type":"circle","color":"black","size":50,"opacity":1},"encoding":{"x":{"field":"e","type":"quantitative","scale":{"domain":[4.36136,4.37285],"range":[1469.3,1739.3],"nice":false,"zero":false},"axis":{"orient":"bottom","zindex":1,"offset":-671.7,"values":[4.362,4.364,4.366,4.368,4.37,4.372],"format":".3f","labelFont":"Liberation Serif","labelFontSize":14,"labelColor":"#333"}},"y":{"field":"n","type":"quantitative","scale":{"domain":[3.68098,3.6824],"range":[339.3,98.3],"nice":false,"zero":false},"axis":{"orient":"left","zindex":1,"offset":-1469.3,"values":[3.681,3.6812,3.6814,3.6816,3.6818,3.682,3.6822],"format":".4f","labelFont":"Liberation Serif","labelFontSize":14,"labelColor":"#333"}}}},
{"data":{"values":[{"x0":4.36136,"x1":4.37285,"y0":3.68098,"y1":3.6824}]},"mark":{"type":"rect","fill":null,"stroke":"#999","strokeWidth":1.5},"encoding":{"x":{"field":"x0","type":"quantitative","axis":null,"scale":{"domain":[4.36136,4.37285],"range":[1469.3,1739.3],"nice":false,"zero":false}},"x2":{"field":"x1"},"y":{"field":"y0","type":"quantitative","axis":null,"scale":{"domain":[3.68098,3.6824],"range":[339.3,98.3],"nice":false,"zero":false}},"y2":{"field":"y1"}}},
{"data":{"name":"f2"},"mark":{"type":"rect","width":14.2,"height":14.2},"encoding":{"x":{"field":"i","type":"ordinal","axis":null,"scale":{"range":[1471,1738],"paddingInner":0,"paddingOuter":0}},"y":{"field":"j","type":"ordinal","axis":null,"scale":{"range":[429,667.7],"paddingInner":0,"paddingOuter":0}},"color":{"field":"v","type":"quantitative","scale":{"scheme":"plasma","domain":[0,3.15]},"legend":null}}},
{"data":{"name":"f2"},"mark":{"type":"rect"},"encoding":{"x":{"field":"i","type":"ordinal","axis":null,"scale":{"range":[1471,1738],"paddingInner":0,"paddingOuter":0}},"y":{"field":"j","type":"ordinal","axis":null,"scale":{"range":[429,667.7],"paddingInner":0,"paddingOuter":0}},"color":{"field":"v","type":"quantitative","scale":{"scheme":"plasma","domain":[0,3.15]},"legend":{"orient":"none","legendX":1754.7,"legendY":429,"gradientLength":239,"gradientThickness":12,"title":null,"values":[0,0.5,1,1.5,2,2.5,3],"format":".1f","labelFont":"Liberation Serif","labelFontSize":14,"labelColor":"#333","labelOffset":7,"padding":0,"encode":{"labels":{"update":{"baseline":{"value":"middle"}}}}}}}},
{"data":{"name":"wells"},"mark":{"type":"circle","color":"black","size":50,"opacity":1},"encoding":{"x":{"field":"e","type":"quantitative","scale":{"domain":[4.36138,4.37285],"range":[1471,1738],"nice":false,"zero":false},"axis":{"orient":"bottom","zindex":1,"offset":-343.3,"values":[4.365,4.37],"format":".3f","labelFont":"Liberation Serif","labelFontSize":14,"labelColor":"#333","labelPadding":5}},"y":{"field":"n","type":"quantitative","scale":{"domain":[3.68097,3.6824],"range":[667.7,429],"nice":false,"zero":false},"axis":{"orient":"left","zindex":1,"offset":-1471,"values":[3.681,3.6815,3.682],"format":".4f","labelFont":"Liberation Serif","labelFontSize":14,"labelColor":"#333"}}}},
{"data":{"values":[{"x0":4.36138,"x1":4.37285,"y0":3.68097,"y1":3.6824}]},"mark":{"type":"rect","fill":null,"stroke":"#999","strokeWidth":1.5},"encoding":{"x":{"field":"x0","type":"quantitative","axis":null,"scale":{"domain":[4.36138,4.37285],"range":[1471,1738],"nice":false,"zero":false}},"x2":{"field":"x1"},"y":{"field":"y0","type":"quantitative","axis":null,"scale":{"domain":[3.68097,3.6824],"range":[667.7,429],"nice":false,"zero":false}},"y2":{"field":"y1"}}}
]}
